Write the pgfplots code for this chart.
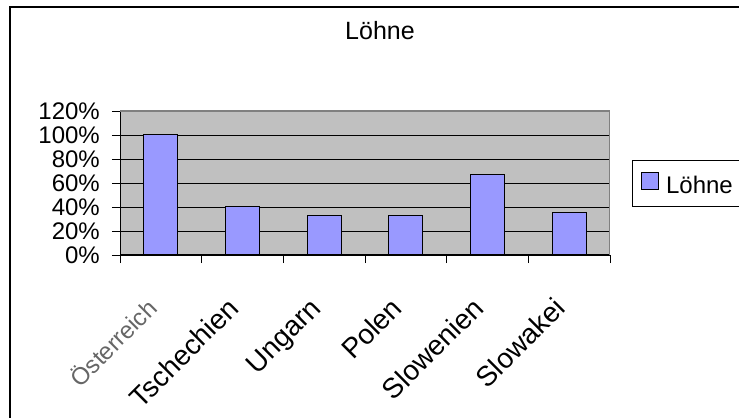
\documentclass[border=0pt]{standalone}
\usepackage{pgfplots}
\pgfplotsset{compat=1.18}
\usepackage{fontspec}
\setmainfont{Liberation Sans}
\definecolor{barblue}{HTML}{9999FF}
\definecolor{plotgray}{HTML}{C0C0C0}
\definecolor{bordergray}{HTML}{808080}
\begin{document}
\begin{tikzpicture}[font=\fontsize{24bp}{28bp}\selectfont]
\useasboundingbox (0,0) rectangle (739bp,418bp);
\fill[white] (0,0) rectangle (739bp,418bp);
\draw[line width=2bp] (9.5bp,0) -- (9.5bp,410.5bp) -- (739bp,410.5bp);
\begin{axis}[
  at={(120bp,163bp)}, anchor=south west,
  scale only axis, width=490bp, height=144bp,
  xmin=-0.5, xmax=5.5, ymin=0, ymax=1.2,
  axis background/.style={fill=plotgray},
  axis lines*=left,
  axis line style={-, black, line width=1bp},
  tick align=outside,
  major tick length=8bp,
  tick style={black, line width=0.8bp},
  ybar, bar width=34bp,
  ytick={0,0.2,0.4,0.6,0.8,1.0,1.2},
  yticklabels={0\%,20\%,40\%,60\%,80\%,100\%,120\%},
  yticklabel style={anchor=east, inner sep=0pt, xshift=-12bp},
  ymajorgrids,
  grid style={black, line width=0.8bp},
  xtick={-0.5,0.5,1.5,2.5,3.5,4.5,5.5},
  xticklabels={},
  extra x ticks={0,1,2,3,4,5},
  extra x tick labels={{\fontsize{24bp}{28bp}\selectfont\textcolor{black!60}{Österreich}},Tschechien,Ungarn,Polen,Slowenien,Slowakei},
  extra x tick style={major tick length=0pt, tick label style={yshift=-55bp, xshift=-2bp, rotate=45, anchor=base east, inner sep=0pt, font=\fontsize{28bp}{32bp}\selectfont}},
  title={Löhne},
  title style={at={(0.5306,1.4583)}, anchor=base, inner sep=0pt, font=\fontsize{25bp}{30bp}\selectfont},
  legend style={at={(1.0443,0.498)}, anchor=west, draw=black, line width=0.8bp,
    inner xsep=9bp, inner ysep=12bp, nodes={inner sep=0pt},
    font=\fontsize{24bp}{28bp}\selectfont,
    /tikz/every odd column/.append style={column sep=7bp}},
  legend image code/.code={\draw[fill=barblue, draw=black, line width=1bp] (0bp,-4bp) rectangle (17bp,12.6bp);},
]
\addplot[fill=barblue, draw=black, line width=1bp] coordinates {(0,1.0) (1,0.40) (2,0.333) (3,0.333) (4,0.667) (5,0.353)};
\addlegendentry{Löhne}
\draw[bordergray, line width=1.5bp] (rel axis cs:0,1) -- (rel axis cs:1,1) -- (rel axis cs:1,0);
\end{axis}
\end{tikzpicture}
\end{document}
